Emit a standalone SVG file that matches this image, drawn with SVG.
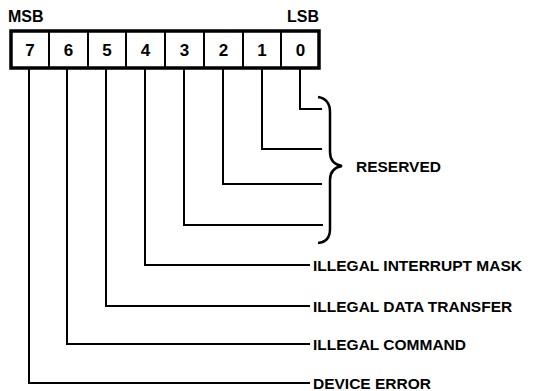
<svg xmlns="http://www.w3.org/2000/svg" width="546" height="391" viewBox="0 0 546 391">
<style>
.t{font-family:"Liberation Sans",Arial,sans-serif;font-weight:bold;fill:#000}
.lbl{font-size:15.5px}
.top{font-size:16px}
.dig{font-size:17px;text-anchor:middle}
.ln{fill:none;stroke:#000;stroke-width:2;stroke-linejoin:miter;stroke-linecap:square}
.div{stroke:#000;stroke-width:2}
</style>
<rect width="546" height="391" fill="#fff"/>
<g id="register">
<text class="t top" x="8" y="22">MSB</text>
<text class="t top" x="319" y="22" text-anchor="end">LSB</text>
<rect x="11" y="31" width="308" height="37" fill="#fff" stroke="#000" stroke-width="3.5"/>
<line class="div" x1="49" y1="31" x2="49" y2="68"/>
<line class="div" x1="88" y1="31" x2="88" y2="68"/>
<line class="div" x1="126" y1="31" x2="126" y2="68"/>
<line class="div" x1="165" y1="31" x2="165" y2="68"/>
<line class="div" x1="204" y1="31" x2="204" y2="68"/>
<line class="div" x1="243" y1="31" x2="243" y2="68"/>
<line class="div" x1="281" y1="31" x2="281" y2="68"/>
<text class="t dig" x="30" y="56">7</text>
<text class="t dig" x="68.5" y="56">6</text>
<text class="t dig" x="107" y="56">5</text>
<text class="t dig" x="145.5" y="56">4</text>
<text class="t dig" x="184.5" y="56">3</text>
<text class="t dig" x="223.5" y="56">2</text>
<text class="t dig" x="262" y="56">1</text>
<text class="t dig" x="300.5" y="56">0</text>
</g>
<g id="connectors">
<path class="ln" d="M300,70 V109 H321"/>
<path class="ln" d="M262,70 V149 H321"/>
<path class="ln" d="M223,70 V184 H321"/>
<path class="ln" d="M184,70 V225 H322"/>
<path class="ln" d="M145,70 V265 H309"/>
<path class="ln" d="M106,70 V306 H309"/>
<path class="ln" d="M67,70 V344 H309"/>
<path class="ln" d="M29,70 V383 H309"/>
</g>
<g id="reserved">
<path d="M318,97 Q330,99 330,112 V152 Q330,164 342,166 Q330,168 330,180 V229 Q330,242 318,243" fill="none" stroke="#000" stroke-width="2.5"/>
<text class="t lbl" x="356" y="172">RESERVED</text>
</g>
<g id="labels">
<text class="t lbl" x="313" y="270.5">ILLEGAL INTERRUPT MASK</text>
<text class="t lbl" x="313" y="311.5">ILLEGAL DATA TRANSFER</text>
<text class="t lbl" x="313" y="349.5">ILLEGAL COMMAND</text>
<text class="t lbl" x="313" y="388.5">DEVICE ERROR</text>
</g>
</svg>
